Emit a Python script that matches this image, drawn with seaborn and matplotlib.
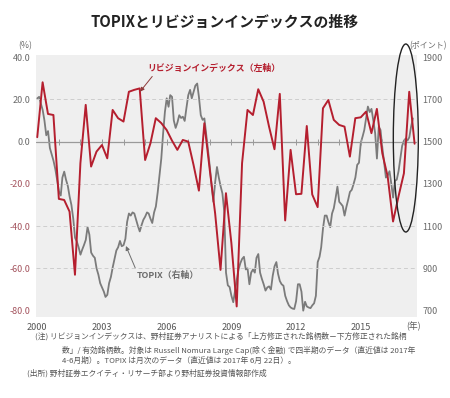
import matplotlib
matplotlib.use("Agg")
import matplotlib.pyplot as plt
from matplotlib.patches import Ellipse
import pandas as pd
import seaborn as sns

# revision index (%), quarterly, 1999Q4 - 2017Q2
revision_index = [
    2.1, 28.1, 13.1, 12.6, -27.1, -27.6, -33.1, -63.0, -10.2, 17.4,
    -11.8, -4.7, -1.6, -7.9, 15.0, 11.1, 9.5, 23.6, 24.5, 25.2,
    -8.7, -0.8, 11.1, 8.8, 5.5, 0.5, -3.9, 0.8, 0.0, -11.0,
    -23.2, 8.7, -13.4, -34.0, -60.7, -24.4, -48.0, -78.0, -10.2, 15.0,
    12.6, 24.8, 18.9, 7.1, -3.6, 22.6, -37.3, -3.9, -24.9, -24.7,
    7.4, -25.0, -31.0, 15.8, 19.7, 10.3, 7.9, 7.1, -7.1, 11.1,
    11.5, 14.2, 4.0, 15.5, -5.5, -16.5, -37.8, -26.0, -15.0, 23.6,
    -1.0,
]

# TOPIX (points), monthly, 2000/01 - 2017/06
topix = [
    1705, 1712, 1680, 1650, 1600, 1530, 1550, 1470, 1440, 1410, 1370, 1320,
    1265, 1245, 1330, 1358, 1320, 1290, 1240, 1200, 1135, 1045, 1027, 1000,
    965, 990, 1010, 1035, 1095, 1060, 975, 960, 950, 900, 870, 830,
    810, 790, 765, 775, 830, 860, 905, 945, 985, 1000, 1030, 1005,
    1010, 1040, 1120, 1160, 1150, 1165, 1160, 1130, 1100, 1075, 1105, 1130,
    1145, 1165, 1160, 1135, 1115, 1165, 1193, 1260, 1340, 1420, 1540, 1640,
    1705, 1665, 1720, 1712, 1600, 1565, 1590, 1625, 1612, 1618, 1598, 1660,
    1720, 1745, 1705, 1735, 1765, 1775, 1710, 1625, 1603, 1610, 1535, 1460,
    1380, 1290, 1215, 1310, 1380, 1330, 1290, 1255, 1170, 880, 820, 812,
    770, 740, 790, 846, 895, 925, 945, 955, 895, 900, 825, 880,
    895, 880, 950, 968, 880, 850, 825, 795, 810, 815, 800, 865,
    910, 930, 875, 840, 825, 818, 770, 745, 725, 715, 710, 708,
    745, 825, 825, 790, 700, 742, 720, 715, 712, 725, 735, 770,
    930, 955, 1000, 1090, 1150, 1150, 1120, 1095, 1160, 1185, 1235, 1287,
    1215, 1205, 1195, 1150, 1190, 1225, 1262, 1272, 1300, 1330, 1390, 1400,
    1495, 1525, 1555, 1610, 1666, 1640, 1655, 1600, 1540, 1420, 1570, 1555,
    1470, 1400, 1330, 1340, 1360, 1300, 1235, 1315, 1320, 1360, 1420, 1480,
    1505, 1515, 1505, 1520, 1570, 1610,
]

x_years = [2000, 2003, 2006, 2009, 2012, 2015]
left_ticks = [40, 20, 0, -20, -40, -60, -80]
right_ticks = [1900, 1700, 1500, 1300, 1100, 900, 700]
grid_levels = [20, -20, -40, -60]

RED = "#b51f2f"
GRAY = "#7b7b7b"

rev_df = pd.DataFrame({
    "date": pd.date_range("1999-12-01", periods=len(revision_index), freq="3MS") + pd.offsets.MonthEnd(0),
    "value": revision_index,
})
topix_df = pd.DataFrame({
    "date": pd.date_range("2000-01-01", periods=len(topix), freq="MS"),
    "value": topix,
})

sns.set_style("white")
plt.rcParams["font.family"] = ["Noto Sans CJK JP", "DejaVu Sans"]

fig = plt.figure(figsize=(4.5, 3.98), dpi=100)
ax = fig.add_axes([0.08, 0.2035, 0.8467, 0.6583])
ax2 = ax.twinx()

# red line on top of the gray one
ax.set_zorder(2)
ax2.set_zorder(1)
ax.patch.set_visible(False)
ax2.patch.set_visible(True)
ax2.set_facecolor("#efefef")

for lv in grid_levels:
    ax.axhline(lv, color="#cdcdcd", lw=0.7, ls=(0, (4, 3)), zorder=0)
ax.axhline(0, color="#9a9a9a", lw=0.9, zorder=0)
year_marks = pd.to_datetime([f"{y}-01-01" for y in range(2001, 2018)])
ax.plot(year_marks, [0] * len(year_marks), ls="none", marker="|", ms=4,
        mew=0.7, color="#9a9a9a", zorder=0)

sns.lineplot(data=topix_df, x="date", y="value", ax=ax2, color=GRAY,
             linewidth=1.3, legend=False)
sns.lineplot(data=rev_df, x="date", y="value", ax=ax, color=RED,
             linewidth=1.4, legend=False)

ax.set_xlim(pd.Timestamp("1999-12-10"), pd.Timestamp("2017-08-10"))
ax.set_ylim(-83, 41)
ax2.set_ylim(670, 1910)

ax.set_xticks(pd.to_datetime([f"{y}-01-01" for y in x_years]))
ax.set_xticklabels([str(y) for y in x_years])
ax.set_yticks(left_ticks)
ax.set_yticklabels([f"{v:.1f}" for v in left_ticks])
for lbl, v in zip(ax.get_yticklabels(), left_ticks):
    lbl.set_color("#6a6a6a" if v >= 0 else "#a4545e")
ax2.set_yticks(right_ticks)
ax2.set_yticklabels([str(v) for v in right_ticks])

ax.tick_params(axis="both", length=0, labelsize=6.5, pad=4)
ax.tick_params(axis="x", colors="#555555", pad=4)
ax2.tick_params(axis="y", length=0, labelsize=6.5, pad=4, colors="#6a6a6a")
ax.set_xlabel("")
ax.set_ylabel("")
ax2.set_ylabel("")
for a in (ax, ax2):
    for s in a.spines.values():
        s.set_visible(False)

ax.text(0.99, -0.035, "(年)", transform=ax.transAxes, ha="center", va="center",
        fontsize=6.3, color="#555555")
fig.text(0.057, 0.884, "(%)", ha="center", va="center", fontsize=6.3, color="#6a6a6a")
fig.text(0.95, 0.884, "(ポイント)", ha="center", va="center", fontsize=5.8, color="#6a6a6a")

ax.annotate("リビジョンインデックス（左軸）", xy=(0.273, 0.86), xytext=(0.291, 0.948),
            xycoords="axes fraction", textcoords="axes fraction",
            ha="left", va="center", fontsize=6.4, fontweight="bold", color=RED,
            arrowprops=dict(arrowstyle="-|>", color="#8e3a3a", lw=0.7,
                            mutation_scale=6, shrinkA=0, shrinkB=0,
                            relpos=(0.06, 0.0)))
ax.annotate("TOPIX（右軸）", xy=(0.236, 0.271), xytext=(0.264, 0.158),
            xycoords="axes fraction", textcoords="axes fraction",
            ha="left", va="center", fontsize=6.4, fontweight="bold", color="#6d6d6d",
            arrowprops=dict(arrowstyle="-|>", color="#6d6d6d", lw=0.7,
                            mutation_scale=6, shrinkA=0, shrinkB=0,
                            relpos=(0.0, 1.0)))

ax.add_patch(Ellipse((0.9706, 0.6832), 0.0656, 0.7176, transform=ax.transAxes,
                     fill=False, edgecolor="#222222", lw=1.0, clip_on=False, zorder=5))

fig.text(0.5, 0.9455, "TOPIXとリビジョンインデックスの推移", ha="center", va="center",
         fontsize=10.7, fontweight="bold", color="#222222")

notes = [
    (0.078, 0.156, "(注) リビジョンインデックスは、野村証券アナリストによる「上方修正された銘柄数－下方修正された銘柄"),
    (0.138, 0.1206, "数」/ 有効銘柄数。対象は Russell Nomura Large Cap(除く金融) で四半期のデータ（直近値は 2017年"),
    (0.138, 0.093, "4-6月期）。TOPIX は月次のデータ（直近値は 2017年 6月 22日）。"),
    (0.06, 0.0628, "(出所) 野村証券エクイティ・リサーチ部より野村証券投資情報部作成"),
]
for x, y, t in notes:
    fig.text(x, y, t, ha="left", va="center", fontsize=5.6, color="#555555")

fig.savefig("out.png", dpi=100)
